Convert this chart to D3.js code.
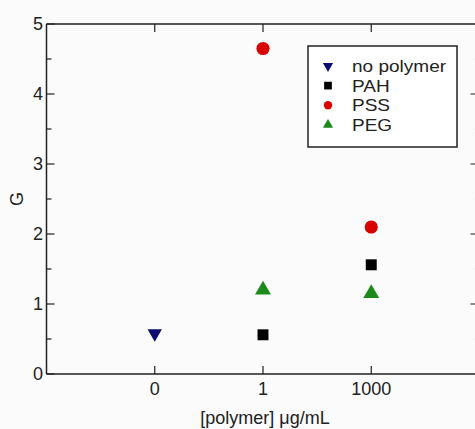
<!DOCTYPE html>
<html>
<head>
<meta charset="utf-8">
<script src="https://cdn.jsdelivr.net/npm/d3@7"></script>
<style>
  body { margin: 0; background: #fbfbfb; }
  svg { display: block; font-family: "Liberation Sans", Arial, sans-serif; }
</style>
</head>
<body>
<div id="chart"></div>
<script>
// data
var categories = ["0", "1", "1000"];
var noPolymer = [{x: "0", y: 0.58}];
var pah = [{x: "1", y: 0.56}, {x: "1000", y: 1.56}];
var pss = [{x: "1", y: 4.65}, {x: "1000", y: 2.1}];
var peg = [{x: "1", y: 1.2}, {x: "1000", y: 1.15}];
var yTicks = [0, 1, 2, 3, 4, 5];
var yMinor = [0.5, 1.5, 2.5, 3.5, 4.5];

var W = 475, H = 429;
var margin = {top: 24, right: 0, bottom: 55, left: 46.5};
var width = 433, height = 350;

var svg = d3.select("#chart").append("svg")
    .attr("width", W)
    .attr("height", H);

var g = svg.append("g")
    .attr("transform", "translate(" + margin.left + "," + margin.top + ")");

// category index -1..3 across the frame
var x = d3.scaleLinear().domain([-1, 3]).range([0, width]);
var xc = function(c) { return x(categories.indexOf(c)); };
var y = d3.scaleLinear().domain([0, 5]).range([height, 0]);

// frame
g.append("line").attr("x1", 0).attr("x2", width).attr("y1", 0).attr("y2", 0)
    .attr("stroke", "#222").attr("stroke-width", 1.5);
g.append("line").attr("x1", 0).attr("x2", width).attr("y1", height).attr("y2", height)
    .attr("stroke", "#222").attr("stroke-width", 1.5);
g.append("line").attr("x1", 0).attr("x2", 0).attr("y1", 0).attr("y2", height)
    .attr("stroke", "#222").attr("stroke-width", 1.5);

// left axis ticks
g.selectAll(".ytick").data(yTicks).enter().append("line")
    .attr("x1", 0).attr("x2", 8)
    .attr("y1", function(d) { return y(d); }).attr("y2", function(d) { return y(d); })
    .attr("stroke", "#222").attr("stroke-width", 1.2);
g.selectAll(".yminor").data(yMinor).enter().append("line")
    .attr("x1", 0).attr("x2", 5)
    .attr("y1", function(d) { return y(d); }).attr("y2", function(d) { return y(d); })
    .attr("stroke", "#222").attr("stroke-width", 1.2);
// right side ticks (axis line itself is cut off)
g.selectAll(".ytickr").data(yTicks.slice(1, 5)).enter().append("line")
    .attr("x1", width - 9).attr("x2", width)
    .attr("y1", function(d) { return y(d); }).attr("y2", function(d) { return y(d); })
    .attr("stroke", "#444").attr("stroke-width", 1.2);
g.selectAll(".yminorr").data(yMinor).enter().append("line")
    .attr("x1", width - 5).attr("x2", width)
    .attr("y1", function(d) { return y(d); }).attr("y2", function(d) { return y(d); })
    .attr("stroke", "#ccc").attr("stroke-width", 1);

g.selectAll(".ylab").data(yTicks).enter().append("text")
    .attr("x", -3.5)
    .attr("y", function(d) { return y(d); })
    .attr("dy", "0.35em")
    .attr("text-anchor", "end")
    .attr("font-size", 18)
    .attr("fill", "#222")
    .text(function(d) { return d; });

// bottom and top x ticks
g.selectAll(".xtick").data(categories).enter().append("line")
    .attr("x1", xc).attr("x2", xc)
    .attr("y1", height).attr("y2", height - 8)
    .attr("stroke", "#222").attr("stroke-width", 1.2);
g.selectAll(".xtickt").data(categories).enter().append("line")
    .attr("x1", xc).attr("x2", xc)
    .attr("y1", 0).attr("y2", 8)
    .attr("stroke", "#222").attr("stroke-width", 1.2);

g.selectAll(".xlab").data(categories).enter().append("text")
    .attr("x", xc)
    .attr("y", height + 21)
    .attr("text-anchor", "middle")
    .attr("font-size", 18)
    .attr("fill", "#222")
    .text(function(d) { return d; });

// axis titles
svg.append("text")
    .attr("transform", "translate(23," + (margin.top + y(2.5)) + ") rotate(-90)")
    .attr("text-anchor", "middle")
    .attr("font-size", 18)
    .attr("fill", "#222")
    .text("G");

svg.append("text")
    .attr("x", 265)
    .attr("y", 424)
    .attr("text-anchor", "middle")
    .attr("font-size", 18)
    .attr("fill", "#222")
    .text("[polymer] \u03bcg/mL");

// markers
var sym = {
    down: d3.symbol().type(d3.symbolTriangle).size(90),
    square: d3.symbol().type(d3.symbolSquare).size(120),
    circle: d3.symbol().type(d3.symbolCircle).size(135),
    up: d3.symbol().type(d3.symbolTriangle).size(110)
};

function drawSeries(data, shape, color, rot) {
    g.selectAll(null).data(data).enter().append("path")
        .attr("d", sym[shape]())
        .attr("fill", color)
        .attr("transform", function(d) {
            return "translate(" + xc(d.x) + "," + y(d.y) + ")" + (rot ? " rotate(180)" : "");
        });
}
drawSeries(noPolymer, "down", "#0d0d70", true);
drawSeries(pah, "square", "#000", false);
drawSeries(pss, "circle", "#d90000", false);
drawSeries(peg, "up", "#1b8a1b", false);

// legend
var legendItems = [
    {name: "no polymer", shape: "down", color: "#0d0d70", rot: true},
    {name: "PAH", shape: "square", color: "#000", rot: false},
    {name: "PSS", shape: "circle", color: "#d90000", rot: false},
    {name: "PEG", shape: "up", color: "#1b8a1b", rot: false}
];
var lg = svg.append("g").attr("transform", "translate(308,46)");
lg.append("rect")
    .attr("width", 149).attr("height", 101)
    .attr("fill", "#fff")
    .attr("stroke", "#222").attr("stroke-width", 1.5);

var li = lg.selectAll(".li").data(legendItems).enter().append("g")
    .attr("transform", function(d, i) { return "translate(0," + (20 + i * 19.6) + ")"; });
li.append("path")
    .attr("d", function(d) {
        var t = d.shape == "circle" ? d3.symbolCircle : d.shape == "square" ? d3.symbolSquare : d3.symbolTriangle;
        return d3.symbol().type(t).size(d.shape == "circle" ? 55 : d.shape == "square" ? 60 : 45)();
    })
    .attr("fill", function(d) { return d.color; })
    .attr("transform", function(d) { return "translate(20,0)" + (d.rot ? " rotate(180)" : ""); });
li.append("text")
    .attr("transform", "translate(44,0) scale(1.12,1)")
    .attr("dy", "0.35em")
    .attr("font-size", 17)
    .attr("fill", "#222")
    .text(function(d) { return d.name; });
</script>
</body>
</html>
